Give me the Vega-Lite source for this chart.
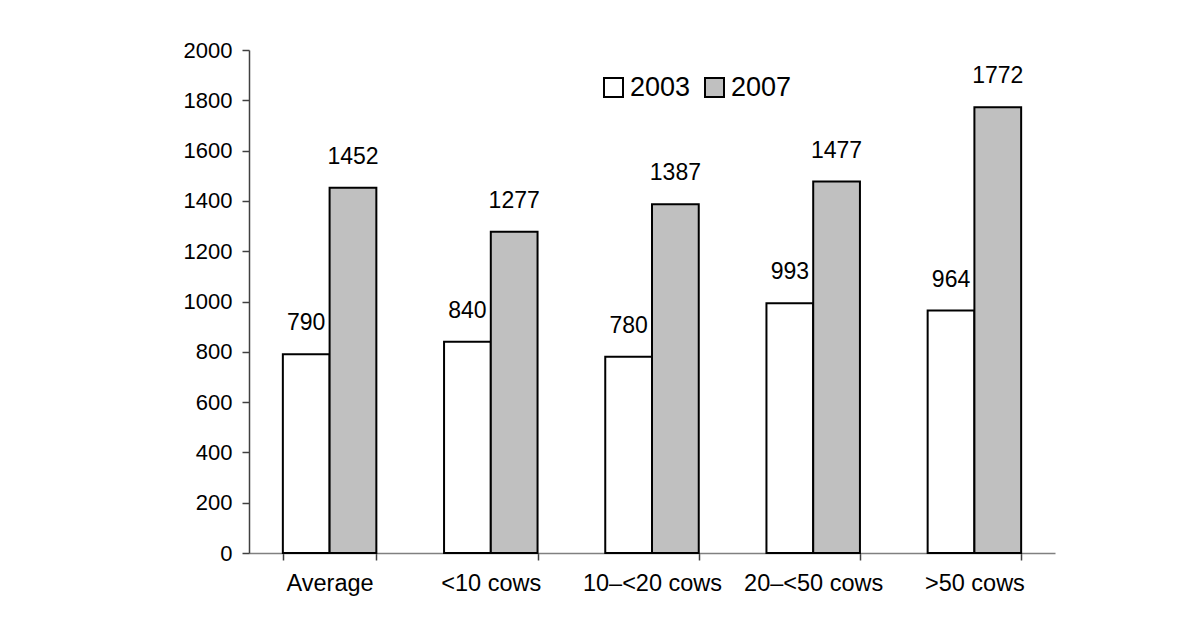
{
  "$schema": "https://vega.github.io/schema/vega-lite/v6.json",
  "autosize": {"type": "none"},
  "padding": {"left": 249, "top": 50, "right": 145, "bottom": 72},
  "width": 806,
  "height": 503,
  "background": "white",
  "config": {
    "view": {"stroke": null},
    "font": "Liberation Sans",
    "axis": {"labelFont": "Liberation Sans", "labelColor": "black", "grid": false}
  },
  "data": {
    "values": [
      {"group": "Average", "year": "2003", "value": 790},
      {"group": "Average", "year": "2007", "value": 1452},
      {"group": "<10 cows", "year": "2003", "value": 840},
      {"group": "<10 cows", "year": "2007", "value": 1277},
      {"group": "10–<20 cows", "year": "2003", "value": 780},
      {"group": "10–<20 cows", "year": "2007", "value": 1387},
      {"group": "20–<50 cows", "year": "2003", "value": 993},
      {"group": "20–<50 cows", "year": "2007", "value": 1477},
      {"group": ">50 cows", "year": "2003", "value": 964},
      {"group": ">50 cows", "year": "2007", "value": 1772}
    ]
  },
  "encoding": {
    "x": {
      "field": "group", "type": "nominal", "sort": null, "title": null,
      "scale": {"paddingInner": 0.42, "paddingOuter": 0.21},
      "axis": {"labelAngle": 0, "labelFontSize": 23.5, "tickBand": "extent", "tickSize": 7, "labelPadding": 11, "domainColor": "#808080", "tickColor": "#404040", "domainWidth": 1.5, "tickWidth": 1.5}
    },
    "xOffset": {"field": "year", "type": "nominal"},
    "y": {
      "field": "value", "type": "quantitative", "title": null,
      "scale": {"domain": [0, 2000]},
      "axis": {"values": [0,200,400,600,800,1000,1200,1400,1600,1800,2000], "format": "d", "labelFontSize": 22, "tickSize": 7, "labelPadding": 10, "domainColor": "#404040", "tickColor": "#404040", "domainWidth": 1.5, "tickWidth": 1.5}
    }
  },
  "layer": [
    {
      "mark": {"type": "bar", "stroke": "black", "strokeWidth": 2},
      "encoding": {
        "fill": {
          "field": "year", "type": "nominal",
          "scale": {"domain": ["2003", "2007"], "range": ["white", "#C0C0C0"]},
          "legend": {
            "title": null, "orient": "none", "direction": "horizontal",
            "legendX": 351, "legendY": 24,
            "symbolType": "square", "symbolSize": 361, "symbolStrokeColor": "black", "symbolStrokeWidth": 2,
            "labelFontSize": 27, "labelColor": "black", "labelOffset": 3, "columnPadding": 10
          }
        }
      }
    },
    {
      "mark": {"type": "text", "baseline": "middle", "dy": -31, "fontSize": 23, "color": "black"},
      "encoding": {"text": {"field": "value", "type": "quantitative"}}
    }
  ]
}
